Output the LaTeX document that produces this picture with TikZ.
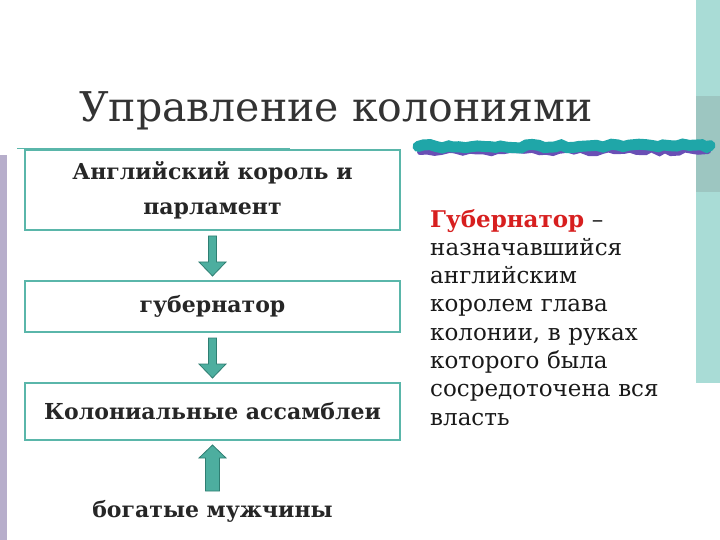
\documentclass[tikz,border=0pt]{standalone}
\usepackage{fontspec}
\setmainfont{DejaVu Serif}
\usetikzlibrary{decorations.pathmorphing,calc}
\definecolor{barteal}{HTML}{A9DCD6}
\definecolor{bardark}{HTML}{9DC6C1}
\definecolor{lav}{HTML}{B7AECB}
\definecolor{boxteal}{HTML}{5AB6AA}
\definecolor{arrfill}{HTML}{4DAE9F}
\definecolor{arrline}{HTML}{2F7E72}
\definecolor{brush}{HTML}{1FA6A8}
\definecolor{brushp}{HTML}{6A4FB5}
\definecolor{redt}{HTML}{D71F1F}
\definecolor{titlec}{HTML}{333333}
\tikzset{
  flowbox/.style={draw=boxteal, line width=2.6bp, fill=white, minimum width=375bp, align=center, inner sep=0pt},
  boxtext/.style={font=\bfseries\fontsize{22bp}{35bp}\selectfont, text=black!85},
  arrowshape/.style={fill=arrfill, draw=arrline, line width=0.8bp},
}
\begin{document}
\begin{tikzpicture}[x=1bp,y=-1bp]
\useasboundingbox (0,0) rectangle (720,540);
% right decorative bar
\fill[barteal] (696,0) rectangle (720,383);
\fill[bardark] (696,96) rectangle (720,192);
% left lavender bar
\fill[lav] (0,155) rectangle (6.5,540);
% thin teal line
\draw[boxteal, line width=1bp] (17,149) -- (290,149);
% title
\node[font=\fontsize{41bp}{46bp}\selectfont, text=titlec, anchor=base] (title) at (336,122) {Управление колониями};
% brush stroke
\pgfmathsetseed{7}
\draw[brushp, line width=6bp, line cap=round, decorate, decoration={random steps, segment length=7bp, amplitude=2bp}] (420,152) -- (708,151);
\draw[brush, line width=11bp, line cap=round, decorate, decoration={random steps, segment length=6bp, amplitude=1.8bp}] (418,146.5) -- (710,145.5);
% boxes
\node[flowbox, boxtext, minimum height=80bp] (b1) at (212.5,190) {Английский король и\\парламент};
\node[flowbox, boxtext, minimum height=51bp] (b2) at (212.5,306.5) {губернатор};
\node[flowbox, boxtext, minimum height=57bp] (b3) at (212.5,411.5) {Колониальные ассамблеи};
\node[boxtext, anchor=base] (b4) at (212.5,517) {богатые мужчины};
% arrows down
\draw[arrowshape] (208.5,236) -- (216.5,236) -- (216.5,262) -- (226,262) -- (212.5,276) -- (199,262) -- (208.5,262) -- cycle;
\draw[arrowshape] (208.5,338) -- (216.5,338) -- (216.5,364) -- (226,364) -- (212.5,378) -- (199,364) -- (208.5,364) -- cycle;
% arrow up
\draw[arrowshape] (205.5,491) -- (219.5,491) -- (219.5,458) -- (226,458) -- (212.5,445) -- (199,458) -- (205.5,458) -- cycle;
% definition text
\node[anchor=north west, align=left, text width=270bp, inner sep=0pt, font=\fontsize{23bp}{28.3bp}\selectfont, text=black!90] (def) at (430,209)
{\textcolor{redt}{\bfseries Губернатор} –\\назначавшийся\\английским\\королем глава\\колонии, в руках\\которого была\\сосредоточена вся\\власть};
\end{tikzpicture}
\end{document}
